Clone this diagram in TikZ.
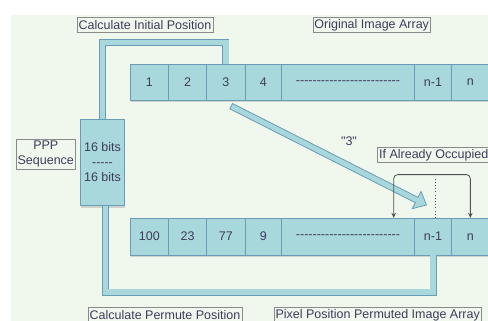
\documentclass[tikz,border=0pt]{standalone}
\usepackage{fontspec}
\newfontfamily\labfont{Liberation Sans}
\usetikzlibrary{arrows.meta,calc,shadows}
\definecolor{bgc}{HTML}{F0F8EE}
\definecolor{cellc}{HTML}{A8D8DB}
\definecolor{edgec}{HTML}{6A9CB6}
\definecolor{inkc}{HTML}{3E3B5B}
\definecolor{tagc}{HTML}{8A8A8A}
\definecolor{occc}{HTML}{505050}
\begin{document}
\begin{tikzpicture}[x=1pt,y=-1pt,
  every node/.style={font=\labfont\fontsize{12.5}{15}\selectfont, text=inkc},
  cell/.style={draw=edgec, fill=cellc, line width=0.8pt, inner sep=0pt,
    minimum height=36.7pt,
    drop shadow={shadow xshift=0.6pt, shadow yshift=-1.8pt, opacity=0.3}},
  tag/.style={draw=tagc, fill=bgc, line width=0.7pt, inner xsep=1.5pt,
    inner ysep=0pt, minimum height=15pt},
  link/.style={draw=edgec, line width=0.8pt, double=cellc, double distance=5.4pt},
  occ/.style={draw=occc, line width=0.8pt, rounded corners=4pt},
]
\useasboundingbox (0,0) rectangle (488,321);
\fill[white] (0,0) rectangle (488,321);
\fill[bgc] (11,15) rectangle (488,321);

% original image array (top row)
\node[cell, minimum width=38.2pt] (t1) at (149.4,82.35) {1};
\node[cell, minimum width=38.2pt] (t2) at (187.6,82.35) {2};
\node[cell, minimum width=38.3pt] (t3) at (225.85,82.35) {3};
\node[cell, minimum width=36.7pt] (t4) at (263.35,82.35) {4};
\node[cell, minimum width=132.6pt] (td) at (348,82.35) {-------------------------};
\node[cell, minimum width=37.4pt] (tn1) at (433,82.35) {n-1};
\node[cell, minimum width=37.3pt] (tn) at (470.35,82.35) {n};

% permuted image array (bottom row)
\node[cell, minimum width=38.2pt] (b1) at (149.4,236.65) {100};
\node[cell, minimum width=38.2pt] (b2) at (187.6,236.65) {23};
\node[cell, minimum width=38.3pt] (b3) at (225.85,236.65) {77};
\node[cell, minimum width=36.7pt] (b4) at (263.35,236.65) {9};
\node[cell, minimum width=132.6pt] (bd) at (348,236.65) {-------------------------};
\node[cell, minimum width=37.4pt] (bn1) at (433,236.65) {n-1};
\node[cell, minimum width=37.3pt] (bn) at (470.35,236.65) {n};

% key sequence block
\node[cell, minimum width=44.4pt, minimum height=86.4pt, align=center]
  (ppp) at (102.5,162.5) {16 bits\\-----\\16 bits};

% thick links from the key block to both arrays
\draw[link] (ppp.north) -- (ppp.north |- 0,42.7) -| (t3.north);
\draw[link] ([xshift=3pt]ppp.south) -- ([xshift=3pt]ppp.south |- 0,292) -| (bn1.south);

% block arrow carrying the value "3"
\coordinate (as) at (231.2,106.2);
\coordinate (ae) at (426.5,205);
\coordinate (ab) at ($(ae)!11pt!(as)$);
\filldraw[fill=cellc, draw=edgec, line width=0.8pt, line join=miter]
  ($(as)!3pt!90:(ae)$) -- ($(ab)!3pt!-90:(as)$) -- ($(ab)!9.7pt!-90:(as)$)
  -- (ae) -- ($(ab)!9.7pt!90:(as)$) -- ($(ab)!3pt!90:(as)$)
  -- ($(as)!3pt!-90:(ae)$) -- cycle;
\node (q3) at (349,141) {"3"};

% collision handling
\draw[occc, line width=0.9pt, dash pattern=on 1pt off 2.2pt]
  ([xshift=2pt]bn1.north) -- ++(0,-41.6);
\coordinate (occL) at ([xshift=-21pt]bd.north east);
\draw[occ, {Stealth[length=5pt,width=4.5pt]}-{Stealth[length=5pt,width=4.5pt]}]
  (occL) -- ++(0,-43.3) -| (bn.north);

% captions
\node[tag] (lci) at (145,24.8) {Calculate Initial Position};
\node[tag] (loa) at (371.7,24.8) {Original Image Array};
\node[tag, align=center, minimum height=30pt, inner ysep=0pt] (lpp) at (45.8,154.3)
  {PPP\\Sequence};
\node[tag, anchor=west] (lao) at (377.3,155) {If Already Occupied};
\node[tag] (lcp) at (165,314.8) {Calculate Permute Position};
\node[tag] (lpa) at (377.7,314.8) {Pixel Position Permuted Image Array};
\end{tikzpicture}
\end{document}
